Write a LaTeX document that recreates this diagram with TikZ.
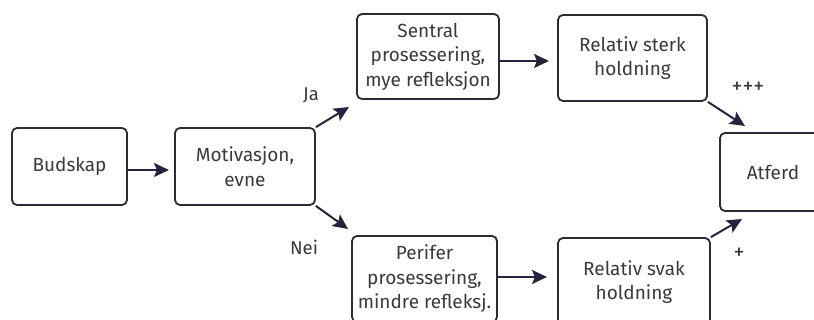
\documentclass[tikz,border=0pt]{standalone}
\usepackage{fontspec}
\setmainfont{Fira Sans}
\usetikzlibrary{arrows.meta}
\definecolor{boxline}{HTML}{2B2B33}
\definecolor{arrowcol}{HTML}{25233D}
\definecolor{txt}{HTML}{3A3A3A}
\begin{document}
\begin{tikzpicture}[x=1pt,y=-1pt,
  box/.style={draw=boxline,line width=1.8pt,rounded corners=5pt,fill=white,
    inner sep=0pt,align=center,text=txt,font=\fontsize{19}{24.5}\selectfont},
  conn/.style={draw=arrowcol,line width=2pt,-{Stealth[length=15pt,width=14pt,inset=3pt]}},
  lbl/.style={text=txt,font=\fontsize{18.5}{20}\selectfont,inner sep=0pt},
  plbl/.style={text=txt,font=\fontsize{22}{22}\selectfont,inner sep=0pt}]
\useasboundingbox (0,0) rectangle (814,320);
\clip (0,0) rectangle (814,320);
\node[box,minimum width=115pt,minimum height=77pt] (bud) at (69.5,166.5) {Budskap};
\node[box,minimum width=140pt,minimum height=77pt] (mot) at (245,166.5) {Motivasjon,\\evne};
\node[box,minimum width=142pt,minimum height=85pt] (sen) at (428,56.5) {Sentral\\prosessering,\\mye refleksjon};
\node[box,minimum width=149pt,minimum height=86pt] (ster) at (632.5,58) {Relativ sterk\\holdning};
\node[box,minimum width=106pt,minimum height=78pt] (atf) at (773,172) {Atferd};
\node[box,minimum width=145pt,minimum height=86pt] (per) at (424.5,279) {Perifer\\prosessering,\\mindre refleksj.};
\node[box,minimum width=152pt,minimum height=88pt] (svak) at (634,282) {Relativ svak\\holdning};
\coordinate (jaend) at (349,107);
\coordinate (neiend) at (348,229);
\coordinate (sterkend) at (745,126);
\coordinate (svakend) at (742,219);
\draw[conn] (bud.east |- 0,170) -- (169,170);
\draw[conn] (mot.north east) -- (jaend);
\draw[conn] (mot.south east) -- (neiend);
\draw[conn] (sen.east |- 0,61) -- (549,61);
\draw[conn] (per.east |- 0,277) -- (547,277);
\draw[conn] (ster.south east) -- (sterkend);
\draw[conn] (svak.north east) -- (svakend);
\node[lbl] (ja) at (311,95) {Ja};
\node[lbl] (nei) at (304,247) {Nei};
\node[plbl] (ppp) at (748,88) {+++};
\node[plbl] (p) at (739,254) {+};
\end{tikzpicture}
\end{document}
